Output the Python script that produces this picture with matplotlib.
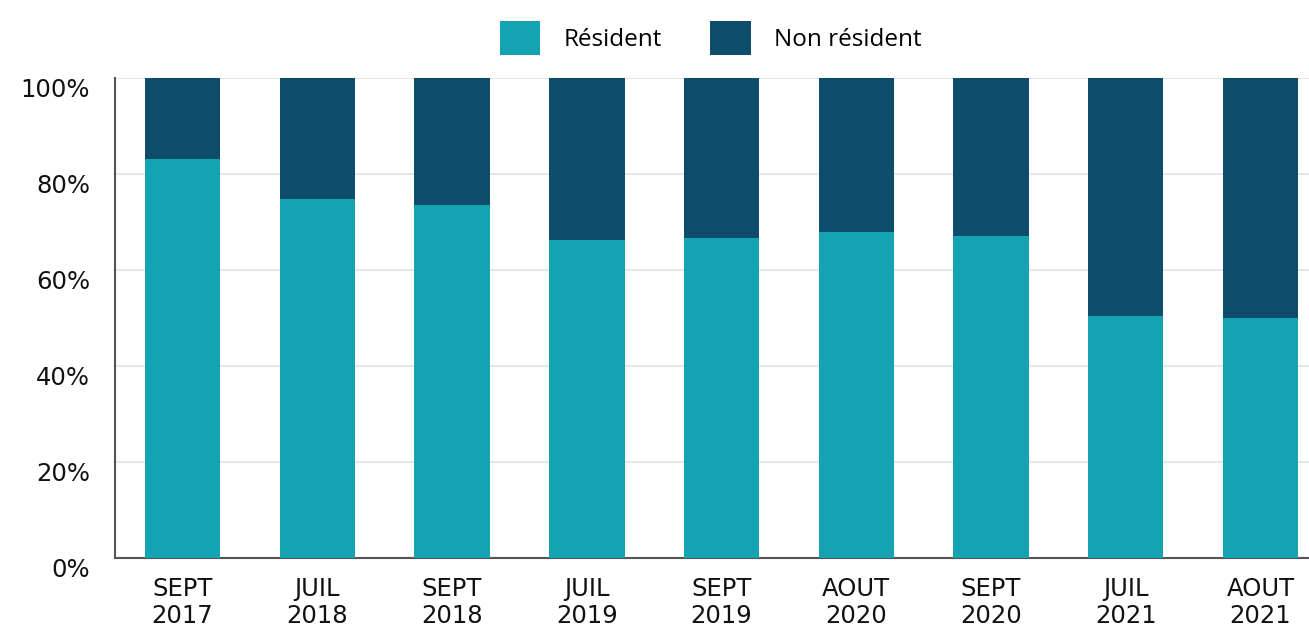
import matplotlib
matplotlib.use("Agg")
import matplotlib.pyplot as plt
import numpy as np

# data (share of residents, %)
periods = ["SEPT\n2017", "JUIL\n2018", "SEPT\n2018", "JUIL\n2019", "SEPT\n2019",
           "AOUT\n2020", "SEPT\n2020", "JUIL\n2021", "AOUT\n2021"]
resident = [83.1, 74.8, 73.5, 66.3, 66.7, 67.9, 67.1, 50.4, 50.0]
non_resident = [100 - r for r in resident]
y_ticks = [0, 20, 40, 60, 80, 100]

c_res = "#13a3b3"
c_non = "#0d4d6b"

fig = plt.figure(figsize=(13.09, 6.27), dpi=100)
ax = fig.add_axes([0.088, 0.11, 0.912, 0.766])

x = np.arange(len(periods))
ax.bar(x, resident, width=0.56, color=c_res, label="Résident", zorder=3)
ax.bar(x, non_resident, width=0.56, bottom=resident, color=c_non,
       label="Non résident", zorder=3)

ax.set_xlim(-0.5, len(periods) - 1 + 0.36)
ax.set_ylim(0, 100)
ax.set_yticks(y_ticks)
ax.set_yticklabels([f"{t}%" for t in y_ticks], fontfamily="DejaVu Sans",
                   fontsize=17.5, va="top", color="#111111")
ax.set_xticks(x)
ax.set_xticklabels(periods, fontfamily="DejaVu Sans", fontsize=17.5,
                   linespacing=1.12, color="#111111")
ax.tick_params(axis="y", length=0, pad=18)
ax.tick_params(axis="x", length=0, pad=14)

ax.grid(axis="y", color="#e2e2e2", linewidth=1.2, zorder=0)
for s in ["top", "right"]:
    ax.spines[s].set_visible(False)
for s in ["left", "bottom"]:
    ax.spines[s].set_color("#555555")
    ax.spines[s].set_linewidth(1.5)

fig.legend(loc="upper center", bbox_to_anchor=(0.543, 1.0), ncol=2,
           frameon=False, prop={"family": "Open Sans", "size": 17.5},
           handlelength=1.65, handleheight=1.8, columnspacing=2.0,
           handletextpad=0.95, borderaxespad=0.45)

fig.savefig("out.png", dpi=100)
